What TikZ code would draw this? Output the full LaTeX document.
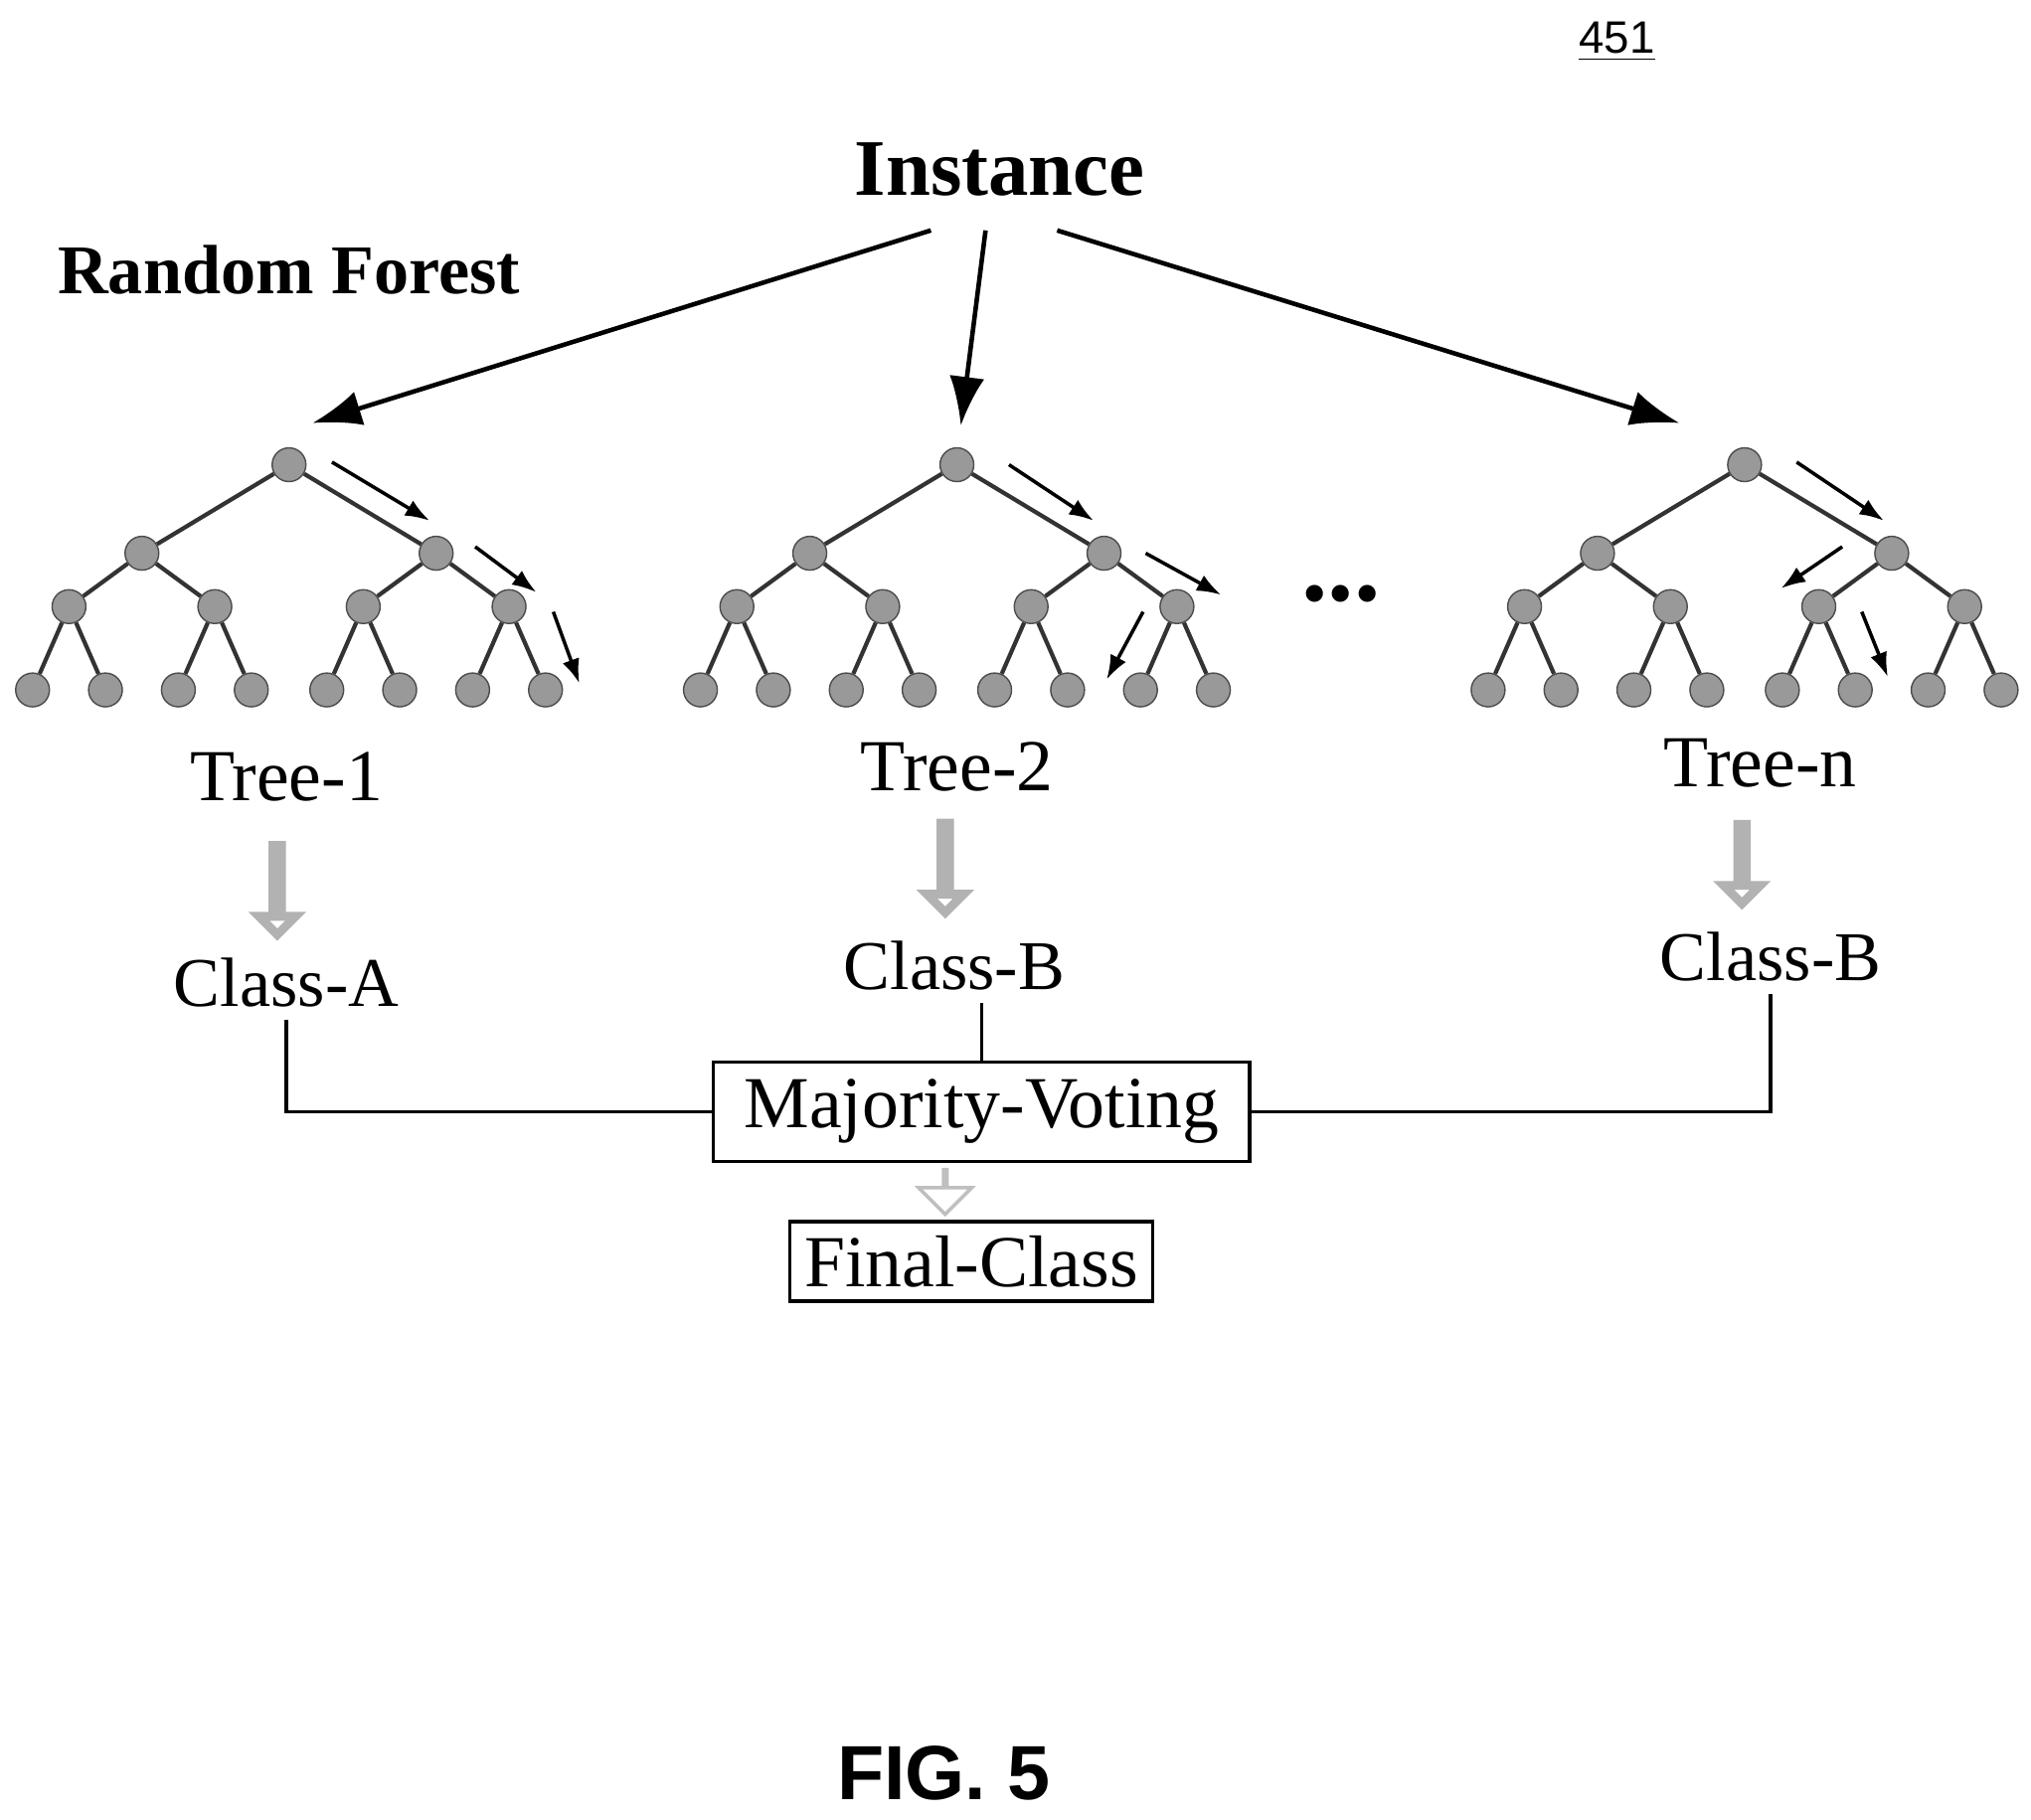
\documentclass[tikz,border=0pt]{standalone}
\usepackage{fontspec}
\setmainfont{Liberation Serif}
\setsansfont{Liberation Sans}
\usetikzlibrary{arrows, arrows.meta, shapes.arrows, positioning}

\begin{document}
\begin{tikzpicture}[x=0.0131cm,y=-0.0131cm,>=stealth',
  vertex/.style={circle,fill=gray!80,draw=gray!60!black,minimum size=0.34cm,inner sep=0pt},
  link/.style={draw=gray!40!black,line width=1.2pt},
  hint/.style={-{Latex[length=7pt,width=5pt]},line width=1pt},
  hollow/.style={single arrow,draw=gray!60,fill=white,line width=2.5pt,rotate=270,
    single arrow head extend=4pt,minimum height=0.9cm,minimum width=0.35cm,inner sep=0pt},
  label/.style={font=\fontsize{21}{23}\selectfont},
  box/.style={draw,line width=1pt,label,inner sep=3pt}]
\useasboundingbox (0,0) rectangle (1560,1398);

% headings
  \node[font=\sffamily\fontsize{13}{15}\selectfont] (num) at (1242,32) {\underline{451}};
  \node[font=\bfseries\fontsize{23}{25}\selectfont] (inst) at (768,130) {Instance};
  \node[font=\bfseries\fontsize{20}{22}\selectfont] (rf) at (222,207) {Random Forest};

% the trees
\foreach \t/\x in {a/222, b/735, c/1340} {
  \node[vertex] (\t) at (\x,357) {};
  \foreach \i/\dx in {1/-113, 2/113} {
    \node[vertex] (\t\i) at (\x+\dx,425) {};
    \draw[link] (\t) -- (\t\i);
    \foreach \j/\ex in {1/-56, 2/56} {
      \node[vertex] (\t\i\j) at (\x+\dx+\ex,466) {};
      \draw[link] (\t\i) -- (\t\i\j);
      \foreach \k/\fx in {1/-28, 2/28} {
        \node[vertex] (\t\i\j\k) at (\x+\dx+\ex+\fx,530) {};
        \draw[link] (\t\i\j) -- (\t\i\j\k);
      }
    }
  }
}
  \node[font=\bfseries\fontsize{30}{30}\selectfont] (dots) at (1030,456) {...};

% decision paths
  \draw[hint] (255,355) -- (330,400);
  \draw[hint] (365,420) -- (412,455);
  \draw[hint] (425,470) -- (445,525);
  \draw[hint] (775,357) -- (840,400);
  \draw[hint] (880,425) -- (938,457);
  \draw[hint] (878,470) -- (850,522);
  \draw[hint] (1380,355) -- (1447,400);
  \draw[hint] (1415,420) -- (1368,452);
  \draw[hint] (1430,470) -- (1450,520);

% instance to trees
  \coordinate (s1) at (715,177);
  \coordinate (s2) at (757,177);
  \coordinate (s3) at (812,177);
  \coordinate (e1) at (240,325);
  \coordinate (e2) at (738,327);
  \coordinate (e3) at (1290,325);
  \foreach \n in {1,2,3}
    \draw[-{Latex[length=14pt,width=10pt]},line width=1.3pt] (s\n) -- (e\n);

% tree outputs
  \node[label] (t1) at (220,597) {Tree-1};
  \node[label] (t2) at (735,589) {Tree-2};
  \node[label] (t3) at (1352,586) {Tree-n};
  \node[hollow] (h1) at (213,682) {};
  \node[hollow] (h2) at (726,665) {};
  \node[hollow,minimum height=0.8cm] (h3) at (1338,662) {};
  \node[label,font=\fontsize{20}{22}\selectfont] (c1) at (220,755) {Class-A};
  \node[label,font=\fontsize{20}{22}\selectfont] (c2) at (733,742) {Class-B};
  \node[label,font=\fontsize{20}{22}\selectfont] (c3) at (1360,735) {Class-B};

% voting
  \node[box,minimum width=5.4cm,minimum height=1cm] (vote) at (754,854) {Majority-Voting};
  \node[box,minimum width=3.65cm,minimum height=0.8cm] (final) at (746,969) {Final-Class};
  \node[single arrow,draw=gray!50,fill=white,line width=1pt,rotate=270,minimum height=0.45cm,
    minimum width=0.3cm,inner sep=0pt] (h4) at (726,915) {};
  \draw[line width=1pt] (c1.south) -- (c1.south |- vote.west) -- (vote.west);
  \draw[line width=1pt] (c2.south -| vote.north) -- (vote.north);
  \draw[line width=1pt] (c3.south) -- (c3.south |- vote.east) -- (vote.east);

  \node[font=\sffamily\bfseries\fontsize{22}{24}\selectfont] (fig) at (725,1362) {FIG. 5};
\end{tikzpicture}
\end{document}
